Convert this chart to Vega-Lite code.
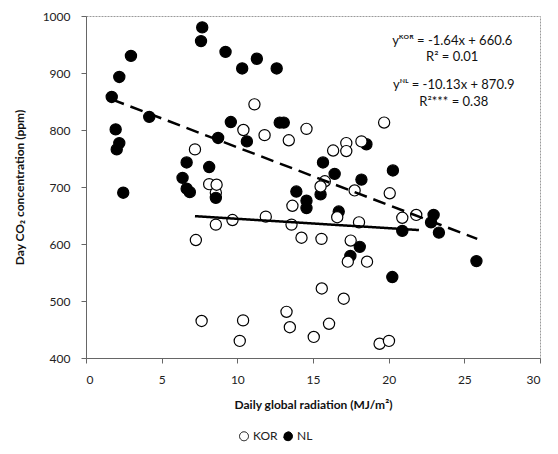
{
  "$schema": "https://vega.github.io/schema/vega-lite/v6.json",
  "width": 454,
  "height": 342,
  "autosize": {"type": "none"},
  "padding": {"left": 86, "top": 16, "right": 18, "bottom": 96},
  "config": {
    "font": "Lato",
    "view": {"stroke": "#9a9a9a", "strokeDash": [2, 1]},
    "axis": {
      "grid": false,
      "domainColor": "#666666",
      "tickColor": "#666666",
      "tickSize": 5,
      "labelFont": "Lato",
      "labelFontSize": 12,
      "labelColor": "#222222",
      "titleFont": "Lato",
      "titleFontSize": 12,
      "titleFontWeight": "bold",
      "titleColor": "#111111"
    }
  },
  "datasets": {
    "points": [
      {"site": "NL", "radiation": 7.68, "co2": 980},
      {"site": "NL", "radiation": 7.6, "co2": 956},
      {"site": "NL", "radiation": 2.97, "co2": 930},
      {"site": "NL", "radiation": 9.22, "co2": 937},
      {"site": "NL", "radiation": 11.29, "co2": 925},
      {"site": "NL", "radiation": 10.32, "co2": 908},
      {"site": "NL", "radiation": 12.6, "co2": 908},
      {"site": "NL", "radiation": 2.2, "co2": 893},
      {"site": "NL", "radiation": 1.7, "co2": 858},
      {"site": "NL", "radiation": 4.18, "co2": 823},
      {"site": "NL", "radiation": 1.96, "co2": 801},
      {"site": "NL", "radiation": 2.2, "co2": 777},
      {"site": "NL", "radiation": 2.03, "co2": 766},
      {"site": "NL", "radiation": 9.57, "co2": 814},
      {"site": "NL", "radiation": 8.73, "co2": 786},
      {"site": "NL", "radiation": 10.63, "co2": 780},
      {"site": "NL", "radiation": 12.8, "co2": 813},
      {"site": "NL", "radiation": 13.07, "co2": 813},
      {"site": "NL", "radiation": 6.65, "co2": 743},
      {"site": "NL", "radiation": 8.14, "co2": 735},
      {"site": "NL", "radiation": 6.38, "co2": 716},
      {"site": "NL", "radiation": 6.65, "co2": 697},
      {"site": "NL", "radiation": 6.86, "co2": 691},
      {"site": "NL", "radiation": 2.46, "co2": 690},
      {"site": "KOR", "radiation": 8.58, "co2": 690},
      {"site": "NL", "radiation": 8.58, "co2": 681},
      {"site": "NL", "radiation": 13.9, "co2": 692},
      {"site": "NL", "radiation": 14.57, "co2": 676},
      {"site": "NL", "radiation": 14.57, "co2": 663},
      {"site": "NL", "radiation": 15.66, "co2": 743},
      {"site": "NL", "radiation": 16.43, "co2": 723},
      {"site": "NL", "radiation": 18.2, "co2": 713},
      {"site": "NL", "radiation": 18.53, "co2": 775},
      {"site": "NL", "radiation": 20.28, "co2": 729},
      {"site": "NL", "radiation": 15.5, "co2": 687},
      {"site": "NL", "radiation": 16.7, "co2": 657},
      {"site": "NL", "radiation": 20.9, "co2": 623},
      {"site": "NL", "radiation": 18.09, "co2": 595},
      {"site": "NL", "radiation": 17.47, "co2": 579},
      {"site": "NL", "radiation": 20.24, "co2": 542},
      {"site": "NL", "radiation": 25.8, "co2": 570},
      {"site": "NL", "radiation": 22.97, "co2": 651},
      {"site": "NL", "radiation": 22.8, "co2": 638},
      {"site": "NL", "radiation": 23.32, "co2": 620},
      {"site": "KOR", "radiation": 11.13, "co2": 845},
      {"site": "KOR", "radiation": 10.4, "co2": 800},
      {"site": "KOR", "radiation": 11.8, "co2": 791},
      {"site": "KOR", "radiation": 13.4, "co2": 782},
      {"site": "KOR", "radiation": 14.57, "co2": 802},
      {"site": "KOR", "radiation": 19.7, "co2": 813},
      {"site": "KOR", "radiation": 7.2, "co2": 766},
      {"site": "KOR", "radiation": 8.14, "co2": 705},
      {"site": "KOR", "radiation": 8.63, "co2": 704},
      {"site": "KOR", "radiation": 8.58, "co2": 634},
      {"site": "KOR", "radiation": 9.68, "co2": 642},
      {"site": "KOR", "radiation": 11.88, "co2": 648},
      {"site": "KOR", "radiation": 7.26, "co2": 607},
      {"site": "KOR", "radiation": 13.64, "co2": 667},
      {"site": "KOR", "radiation": 13.58, "co2": 634},
      {"site": "KOR", "radiation": 14.24, "co2": 611},
      {"site": "KOR", "radiation": 15.56, "co2": 609},
      {"site": "KOR", "radiation": 17.49, "co2": 606},
      {"site": "KOR", "radiation": 17.2, "co2": 777},
      {"site": "KOR", "radiation": 18.2, "co2": 780},
      {"site": "KOR", "radiation": 16.33, "co2": 764},
      {"site": "KOR", "radiation": 17.2, "co2": 763},
      {"site": "KOR", "radiation": 15.78, "co2": 710},
      {"site": "KOR", "radiation": 15.5, "co2": 701},
      {"site": "KOR", "radiation": 17.75, "co2": 694},
      {"site": "KOR", "radiation": 20.07, "co2": 689},
      {"site": "KOR", "radiation": 16.6, "co2": 647},
      {"site": "KOR", "radiation": 21.82, "co2": 651},
      {"site": "KOR", "radiation": 20.9, "co2": 646},
      {"site": "KOR", "radiation": 18.04, "co2": 638},
      {"site": "KOR", "radiation": 17.3, "co2": 569},
      {"site": "KOR", "radiation": 18.57, "co2": 569},
      {"site": "KOR", "radiation": 7.64, "co2": 465},
      {"site": "KOR", "radiation": 10.38, "co2": 466},
      {"site": "KOR", "radiation": 10.16, "co2": 430},
      {"site": "KOR", "radiation": 13.25, "co2": 481},
      {"site": "KOR", "radiation": 13.47, "co2": 454},
      {"site": "KOR", "radiation": 15.05, "co2": 437},
      {"site": "KOR", "radiation": 16.06, "co2": 460},
      {"site": "KOR", "radiation": 15.58, "co2": 522},
      {"site": "KOR", "radiation": 17.03, "co2": 504},
      {"site": "KOR", "radiation": 19.4, "co2": 425},
      {"site": "KOR", "radiation": 20.02, "co2": 430}
    ],
    "lines": [
      {"group": "KOR", "radiation": 7.2, "co2": 648.8},
      {"group": "KOR", "radiation": 22.0, "co2": 624.5},
      {"group": "NL", "radiation": 1.7, "co2": 853.7},
      {"group": "NL", "radiation": 25.85, "co2": 609.0}
    ],
    "notes": [
      {"label": "yᴷᴼᴿ = -1.64x + 660.6", "radiation": 24.2, "co2": 957},
      {"label": "R² = 0.01", "radiation": 24.2, "co2": 928},
      {"label": "yᴺᴸ = -10.13x + 870.9", "radiation": 24.3, "co2": 879},
      {"label": "R²*** = 0.38", "radiation": 24.3, "co2": 849}
    ]
  },
  "layer": [
    {
      "data": {"name": "points"},
      "mark": {"type": "point", "shape": "circle", "filled": true, "stroke": "black", "strokeWidth": 1.2, "size": 125, "opacity": 1},
      "encoding": {
        "x": {"field": "radiation", "type": "quantitative", "scale": {"domain": [0, 30]},
              "axis": {"values": [0, 5, 10, 15, 20, 25, 30], "labelPadding": 11, "titlePadding": 14, "title": "Daily global radiation (MJ/m²)"}},
        "y": {"field": "co2", "type": "quantitative", "scale": {"domain": [400, 1000]},
              "axis": {"values": [400, 500, 600, 700, 800, 900, 1000], "format": "d", "labelPadding": 11, "titlePadding": 16, "title": "Day CO₂ concentration (ppm)"}},
        "fill": {"field": "site", "type": "nominal", "scale": {"domain": ["KOR", "NL"], "range": ["white", "black"]},
                 "legend": {"orient": "none", "legendX": 152, "legendY": 414, "direction": "horizontal", "title": null,
                            "symbolType": "circle", "symbolSize": 80, "symbolStrokeColor": "black", "symbolStrokeWidth": 1,
                            "labelFontSize": 12, "labelFont": "Lato", "labelColor": "#222222", "columnPadding": 3, "labelOffset": 3}}
      }
    },
    {
      "data": {"name": "lines"},
      "mark": {"type": "line", "color": "black", "strokeWidth": 2.5},
      "encoding": {
        "x": {"field": "radiation", "type": "quantitative", "title": "Daily global radiation (MJ/m²)"},
        "y": {"field": "co2", "type": "quantitative", "title": "Day CO₂ concentration (ppm)"},
        "detail": {"field": "group", "type": "nominal"},
        "strokeDash": {"field": "group", "type": "nominal", "scale": {"domain": ["KOR", "NL"], "range": [[1, 0], [13, 7]]}, "legend": null}
      }
    },
    {
      "data": {"name": "notes"},
      "mark": {"type": "text", "fontSize": 13, "align": "center", "baseline": "middle", "font": "Lato", "color": "#111111"},
      "encoding": {
        "x": {"field": "radiation", "type": "quantitative", "title": "Daily global radiation (MJ/m²)"},
        "y": {"field": "co2", "type": "quantitative", "title": "Day CO₂ concentration (ppm)"},
        "text": {"field": "label", "type": "nominal"}
      }
    }
  ]
}
